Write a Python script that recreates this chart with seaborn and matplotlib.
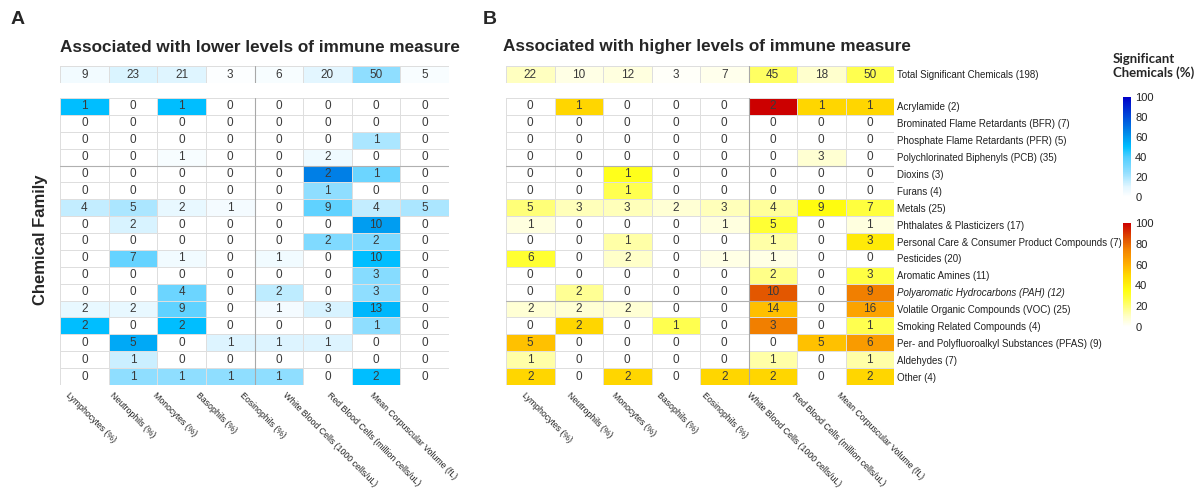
import numpy as np
import pandas as pd
import matplotlib
matplotlib.use("Agg")
import matplotlib.pyplot as plt
import matplotlib.transforms as mtransforms
import seaborn as sns
from matplotlib.colors import LinearSegmentedColormap, Normalize
from matplotlib.cm import ScalarMappable

# --- Data ---
families = [
    "Acrylamide (2)",
    "Brominated Flame Retardants (BFR) (7)",
    "Phosphate Flame Retardants (PFR) (5)",
    "Polychlorinated Biphenyls (PCB) (35)",
    "Dioxins (3)",
    "Furans (4)",
    "Metals (25)",
    "Phthalates & Plasticizers (17)",
    "Personal Care & Consumer Product Compounds (7)",
    "Pesticides (20)",
    "Aromatic Amines (11)",
    "Polyaromatic Hydrocarbons (PAH) (12)",
    "Volatile Organic Compounds (VOC) (25)",
    "Smoking Related Compounds (4)",
    "Per- and Polyfluoroalkyl Substances (PFAS) (9)",
    "Aldehydes (7)",
    "Other (4)",
]
family_sizes = [2, 7, 5, 35, 3, 4, 25, 17, 7, 20, 11, 12, 25, 4, 9, 7, 4]
total_label = "Total Significant Chemicals (198)"
total_chemicals = 198

measures = [
    "Lymphocytes (%)", "Neutrophils (%)", "Monocytes (%)", "Basophils (%)",
    "Eosinophils (%)", "White Blood Cells (1000 cells/uL)",
    "Red Blood Cells (million cells/uL)", "Mean Corpuscular Volume (fL)",
]

lower_totals = [9, 23, 21, 3, 6, 20, 50, 5]
lower_counts = [
    [1, 0, 1, 0, 0, 0, 0, 0],
    [0, 0, 0, 0, 0, 0, 0, 0],
    [0, 0, 0, 0, 0, 0, 1, 0],
    [0, 0, 1, 0, 0, 2, 0, 0],
    [0, 0, 0, 0, 0, 2, 1, 0],
    [0, 0, 0, 0, 0, 1, 0, 0],
    [4, 5, 2, 1, 0, 9, 4, 5],
    [0, 2, 0, 0, 0, 0, 10, 0],
    [0, 0, 0, 0, 0, 2, 2, 0],
    [0, 7, 1, 0, 1, 0, 10, 0],
    [0, 0, 0, 0, 0, 0, 3, 0],
    [0, 0, 4, 0, 2, 0, 3, 0],
    [2, 2, 9, 0, 1, 3, 13, 0],
    [2, 0, 2, 0, 0, 0, 1, 0],
    [0, 5, 0, 1, 1, 1, 0, 0],
    [0, 1, 0, 0, 0, 0, 0, 0],
    [0, 1, 1, 1, 1, 0, 2, 0],
]

higher_totals = [22, 10, 12, 3, 7, 45, 18, 50]
higher_counts = [
    [0, 1, 0, 0, 0, 2, 1, 1],
    [0, 0, 0, 0, 0, 0, 0, 0],
    [0, 0, 0, 0, 0, 0, 0, 0],
    [0, 0, 0, 0, 0, 0, 3, 0],
    [0, 0, 1, 0, 0, 0, 0, 0],
    [0, 0, 1, 0, 0, 0, 0, 0],
    [5, 3, 3, 2, 3, 4, 9, 7],
    [1, 0, 0, 0, 1, 5, 0, 1],
    [0, 0, 1, 0, 0, 1, 0, 3],
    [6, 0, 2, 0, 1, 1, 0, 0],
    [0, 0, 0, 0, 0, 2, 0, 3],
    [0, 2, 0, 0, 0, 10, 0, 9],
    [2, 2, 2, 0, 0, 14, 0, 16],
    [0, 2, 0, 1, 0, 3, 0, 1],
    [5, 0, 0, 0, 0, 0, 5, 6],
    [1, 0, 0, 0, 0, 1, 0, 1],
    [2, 0, 2, 0, 2, 2, 0, 2],
]

# --- Style ---
sns.set_theme(style="white")
plt.rcParams["font.family"] = ["Liberation Sans", "DejaVu Sans"]

blues = LinearSegmentedColormap.from_list("sig_blue", [
    (0.0, "#FFFFFF"), (0.1, "#E2F6FF"), (0.25, "#8FDEFF"), (0.4, "#50CEFF"),
    (0.5, "#00BFFF"), (0.65, "#0085E8"), (1.0, "#0000C8")])
yelreds = LinearSegmentedColormap.from_list("sig_red", [
    (0.0, "#FFFFFF"), (0.1, "#FFFFC8"), (0.25, "#FFFF50"), (0.35, "#FFFF10"),
    (0.5, "#FFD700"), (0.6, "#FFB000"), (0.75, "#F28000"), (0.85, "#E05000"),
    (1.0, "#CC0000")])

W, H = 1203, 496
fig = plt.figure(figsize=(W / 100, H / 100), dpi=100)


def px_axes(x0, y0, x1, y1):
    return fig.add_axes([x0 / W, 1 - y1 / H, (x1 - x0) / W, (y1 - y0) / H])


annot_kws = dict(fontsize=8.5, color="#3a3a3a")
grid_kw = dict(linewidths=0.7, linecolor="#dedede")


def draw_panel(x0, x1, counts, totals, cmap, show_rows, lab_start, lab_step,
               dark_col, dark_rows):
    sizes = np.array(family_sizes, dtype=float)[:, None]
    cnt = pd.DataFrame(counts, index=families, columns=measures)
    pct = cnt / sizes * 100
    tot = pd.DataFrame([totals], index=[total_label], columns=measures)
    tot_pct = tot / total_chemicals * 100

    ax_t = px_axes(x0, 66, x1, 83)
    sns.heatmap(tot_pct, annot=tot, fmt="d", cmap=cmap, vmin=0, vmax=100,
                cbar=False, annot_kws=annot_kws, xticklabels=False,
                yticklabels=show_rows, ax=ax_t, **grid_kw)
    ax_m = px_axes(x0, 98, x1, 385)
    sns.heatmap(pct, annot=cnt, fmt="d", cmap=cmap, vmin=0, vmax=100,
                cbar=False, annot_kws=annot_kws, xticklabels=measures,
                yticklabels=show_rows, ax=ax_m, **grid_kw)

    # slightly darker seams, as in the assembled original
    for ax in (ax_t, ax_m):
        ax.axvline(dark_col, color="#a8a8a8", lw=0.8)
    for r in dark_rows:
        ax_m.axhline(r, color="#b0b0b0", lw=0.8)

    for ax in (ax_t, ax_m):
        ax.tick_params(length=0, labelsize=7, colors="#222222")
        ax.set_xlabel("")
        ax.set_ylabel("")
        if show_rows:
            ax.yaxis.tick_right()
            for lab in ax.get_yticklabels():
                lab.set_rotation(0)
                lab.set_ha("left")
                if lab.get_text().startswith("Polyaromatic"):
                    lab.set_fontstyle("italic")
            ax.tick_params(axis="y", pad=2)

    # rotated measure labels (their spacing is a bit tighter than the columns)
    ax_m.set_xticks(lab_start + lab_step * np.arange(len(measures)))
    ax_m.set_xticklabels(measures, rotation=-45, ha="left", va="center",
                         rotation_mode="anchor", fontsize=6.3)
    off = mtransforms.ScaledTranslation(0, -4 / 100, fig.dpi_scale_trans)
    for lab in ax_m.get_xticklabels():
        lab.set_transform(lab.get_transform() + off)
    return ax_t, ax_m


draw_panel(60, 449, lower_counts, lower_totals, blues, False, 0.15, 0.893, 4, [4])
draw_panel(506, 894, higher_counts, higher_totals, yelreds, True, 0.35, 0.928, 5, [4, 12])

# --- Titles and labels ---
fig.text(18 / W, 1 - 20 / H, "A", fontsize=14, fontweight="bold", ha="center", va="center")
fig.text(490 / W, 1 - 20 / H, "B", fontsize=14, fontweight="bold", ha="center", va="center")
fig.text(60 / W, 1 - 47 / H, "Associated with lower levels of immune measure",
         fontsize=12.3, fontweight="bold", ha="left", va="center")
fig.text(503 / W, 1 - 47 / H, "Associated with higher levels of immune measure",
         fontsize=12.3, fontweight="bold", ha="left", va="center")
fig.text(40 / W, 1 - 240 / H, "Chemical Family", fontsize=12, fontweight="bold",
         rotation=90, ha="center", va="center")

# --- Colorbars ---
fig.text(1113 / W, 1 - 66 / H, "Significant\nChemicals (%)", fontsize=9.5,
         fontweight="bold", family=["Lato", "DejaVu Sans"], ha="left",
         va="center", linespacing=1.2)
for (y0, y1, cmap) in [(97, 197, blues), (223, 327, yelreds)]:
    cax = px_axes(1123, y0, 1131, y1)
    cb = fig.colorbar(ScalarMappable(norm=Normalize(0, 100), cmap=cmap), cax=cax,
                      ticks=[0, 20, 40, 60, 80, 100])
    cb.outline.set_visible(False)
    cax.tick_params(length=0, labelsize=8, pad=3, colors="#222222")

fig.savefig("out.png", dpi=100)
